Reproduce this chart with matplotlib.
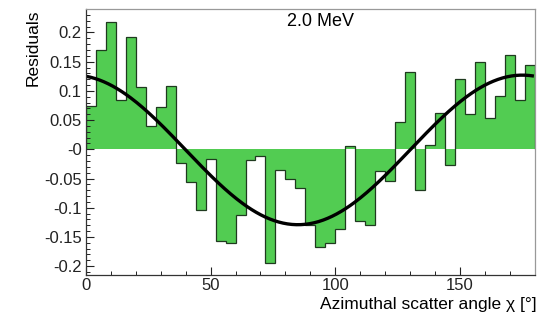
import numpy as np
import matplotlib
matplotlib.use('Agg')
import matplotlib.pyplot as plt
from matplotlib.ticker import MultipleLocator

plt.rcParams['font.family'] = ['Liberation Sans', 'DejaVu Sans']

# histogram of residuals, 4 degree bins from 0 to 180
bin_edges = np.arange(0, 184, 4)
residuals = [0.074, 0.170, 0.218, 0.084, 0.192, 0.107, 0.040, 0.073, 0.108,
             -0.024, -0.056, -0.103, -0.016, -0.157, -0.161, -0.113, -0.018,
             -0.012, -0.194, -0.035, -0.050, -0.067, -0.129, -0.168, -0.161,
             -0.137, 0.006, -0.123, -0.129, -0.037, -0.054, 0.046, 0.132,
             -0.070, 0.007, 0.063, -0.027, 0.120, 0.060, 0.150, 0.053, 0.091,
             0.161, 0.084, 0.145]

# fit parameters of the cos(2 chi) curve
fit_amp = 0.128
fit_phase = -5.0
fit_offset = -0.001

y_ticks = [-0.2, -0.15, -0.1, -0.05, 0, 0.05, 0.1, 0.15, 0.2]
y_tick_labels = ['-0.2', '-0.15', '-0.1', '-0.05', '-0', '0.05', '0.1', '0.15', '0.2']
x_ticks = [0, 50, 100, 150]

fig = plt.figure(figsize=(5.44, 3.25), dpi=100)
ax = fig.add_axes([0.158, 0.154, 0.825, 0.818])

ax.stairs(residuals, bin_edges, baseline=0, fill=True, color='#52cc52', lw=0)
ax.stairs(residuals, bin_edges, baseline=0, fill=False, color='#1f3a1f', lw=0.9)

chi = np.linspace(0, 179, 300)
fit = fit_amp * np.cos(np.radians(2 * (chi - fit_phase))) + fit_offset
ax.plot(chi, fit, color='black', lw=2.4)

ax.set_xlim(0, 180)
ax.set_ylim(-0.215, 0.24)

ax.set_xticks(x_ticks)
ax.xaxis.set_minor_locator(MultipleLocator(10))
ax.set_yticks(y_ticks)
ax.set_yticklabels(y_tick_labels)
ax.yaxis.set_minor_locator(MultipleLocator(0.01))
ax.tick_params(which='both', direction='in', labelsize=12, colors='#222222')
ax.tick_params(which='major', length=5.5, width=0.8)
ax.tick_params(which='minor', length=2.8, width=0.7)
ax.tick_params(axis='x', pad=2)
ax.tick_params(axis='y', pad=3)

for side in ['top', 'right']:
    ax.spines[side].set_color('#999999')
    ax.spines[side].set_linewidth(0.9)
for side in ['left', 'bottom']:
    ax.spines[side].set_color('#333333')
    ax.spines[side].set_linewidth(0.9)

ax.text(94, 0.219, '2.0 MeV', ha='center', va='center', fontsize=13)

fig.text(537 / 544, 1 - 304 / 325, 'Azimuthal scatter angle \u03c7 [\u00b0]',
         ha='right', va='center', fontsize=12.5)
fig.text(33 / 544, 1 - 10 / 325, 'Residuals', rotation=90,
         ha='center', va='top', fontsize=12.5)

fig.savefig('out.png', dpi=100)
